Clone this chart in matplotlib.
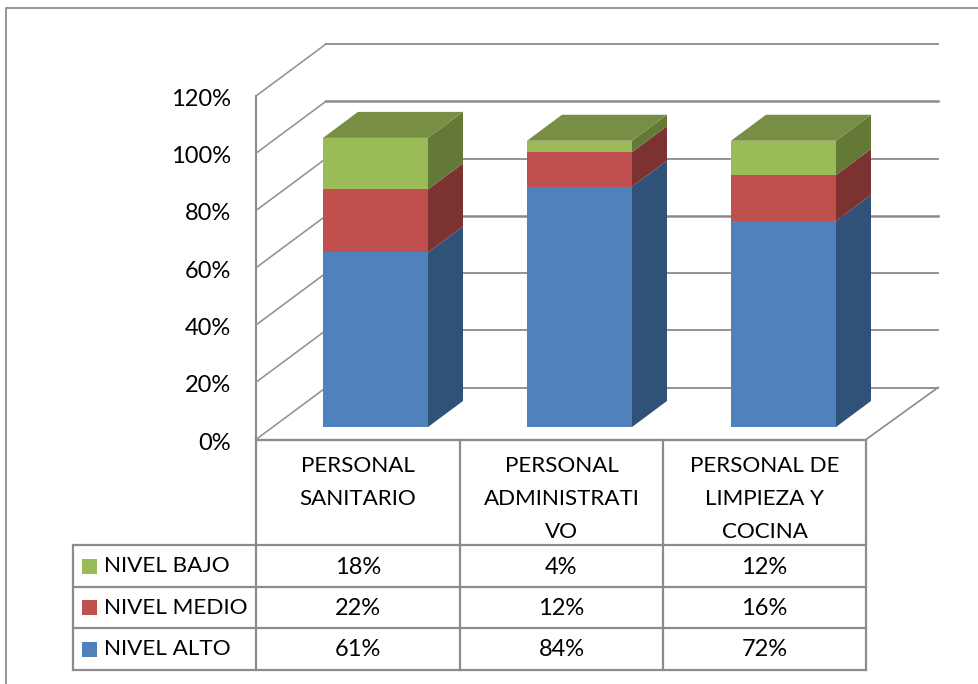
import matplotlib
matplotlib.use("Agg")
import matplotlib.pyplot as plt
from matplotlib.patches import Polygon, Rectangle

plt.rcParams['font.family'] = ['Lato', 'DejaVu Sans']

categories = ["PERSONAL\nSANITARIO", "PERSONAL\nADMINISTRATI\nVO", "PERSONAL DE\nLIMPIEZA Y\nCOCINA"]
series_names = ["NIVEL BAJO", "NIVEL MEDIO", "NIVEL ALTO"]
nivel_alto = [61, 84, 72]
nivel_medio = [22, 12, 16]
nivel_bajo = [18, 4, 12]
axis_ticks = [0, 20, 40, 60, 80, 100, 120]

# front, side, top colours
blue = ("#4f81bd", "#315278", "#3a5f8c")
red = ("#c0504d", "#7b3230", "#8f3c3a")
green = ("#9bbb59", "#657936", "#778e44")
grid_col = "#8a8a8a"

# layout in pixels of the 979x684 picture
W, H = 979, 684
px = 2.8625          # pixels per 1%
floor_y = 439.5
wall_x = 256
wall_dx, wall_dy = 70, -52
floor_right = 866
bar_base = 427
bar_left = [323, 527, 731]
bar_w = 105
bar_dx, bar_dy = 35, -26
col_x = [256, 460, 663, 866]
row_y = [545, 587, 628, 670]
table_left = 73

fig = plt.figure(figsize=(W / 100, H / 100), dpi=100)
ax = fig.add_axes([0, 0, 1, 1])
ax.set_xlim(0, W)
ax.set_ylim(H, 0)
ax.axis("off")

# outer frame, open to the right and at the bottom
ax.plot([6.5, 6.5, W], [H, 8, 8], color="#8c8c8c", lw=1.3, zorder=1)

# walls and gridlines
back_right = floor_right + wall_dx + 2
ax.plot([wall_x, wall_x], [floor_y, floor_y - axis_ticks[-1] * px], color=grid_col, lw=1.5, zorder=2)
for t in axis_ticks:
    y = floor_y - t * px
    lw = 1.8 if t in (60, 100) else 1.3
    ax.plot([wall_x, wall_x + wall_dx], [y, y + wall_dy], color="#959595", lw=1.2, zorder=2)
    ax.plot([wall_x + wall_dx, back_right], [y + wall_dy, y + wall_dy], color=grid_col, lw=lw, zorder=2)
    ax.text(231, y + 3.5, f"{t}%", ha="right", va="center", fontsize=17, color="black")
ax.plot([floor_right, back_right], [floor_y, floor_y + wall_dy], color=grid_col, lw=1.2, zorder=2)

# stacked 3d bars
for i, left in enumerate(bar_left):
    bottom = 0
    for values, cols in [(nivel_alto, blue), (nivel_medio, red), (nivel_bajo, green)]:
        v = values[i]
        y0 = bar_base - bottom * px
        y1 = bar_base - (bottom + v) * px
        right = left + bar_w
        ax.add_patch(Polygon([(right, y0), (right + bar_dx, y0 + bar_dy),
                              (right + bar_dx, y1 + bar_dy), (right, y1)],
                             fc=cols[1], ec="none", zorder=3))
        ax.add_patch(Rectangle((left, y1), bar_w, y0 - y1, fc=cols[0], ec="none", zorder=4))
        bottom += v
    ax.add_patch(Polygon([(left, y1), (right, y1), (right + bar_dx, y1 + bar_dy),
                          (left + bar_dx, y1 + bar_dy)],
                         fc=green[2], ec="none", zorder=4))

# data table grid
table_col = "#8c8c8c"
for x in col_x:
    ax.plot([x, x], [floor_y, row_y[-1]], color=table_col, lw=1.6, zorder=5)
ax.plot([wall_x, floor_right], [floor_y, floor_y], color=table_col, lw=1.7, zorder=5)
for y in row_y:
    ax.plot([table_left, floor_right], [y, y], color=table_col, lw=1.6, zorder=5)
ax.plot([table_left, table_left], [row_y[0], row_y[-1]], color=table_col, lw=1.6, zorder=5)

# category header
for i, cat in enumerate(categories):
    cx = (col_x[i] + col_x[i + 1]) / 2
    for j, line in enumerate(cat.split("\n")):
        ax.text(cx, 466 + j * 33, line, ha="center", va="center", fontsize=16.1, color="black")

# legend keys and values
rows = [(nivel_bajo, green[0]), (nivel_medio, red[0]), (nivel_alto, blue[0])]
for r, (values, col) in enumerate(rows):
    cy = (row_y[r] + row_y[r + 1]) / 2
    ax.add_patch(Rectangle((82, cy - 7.5), 15, 15, fc=col, ec="none", zorder=6))
    ax.text(104, cy, series_names[r], ha="left", va="center", fontsize=16.2, color="black")
    for i, v in enumerate(values):
        cx = (col_x[i] + col_x[i + 1]) / 2
        ax.text(cx, cy + 1, f"{v}%", ha="center", va="center", fontsize=17, color="black")

fig.savefig("out.png", dpi=100)
